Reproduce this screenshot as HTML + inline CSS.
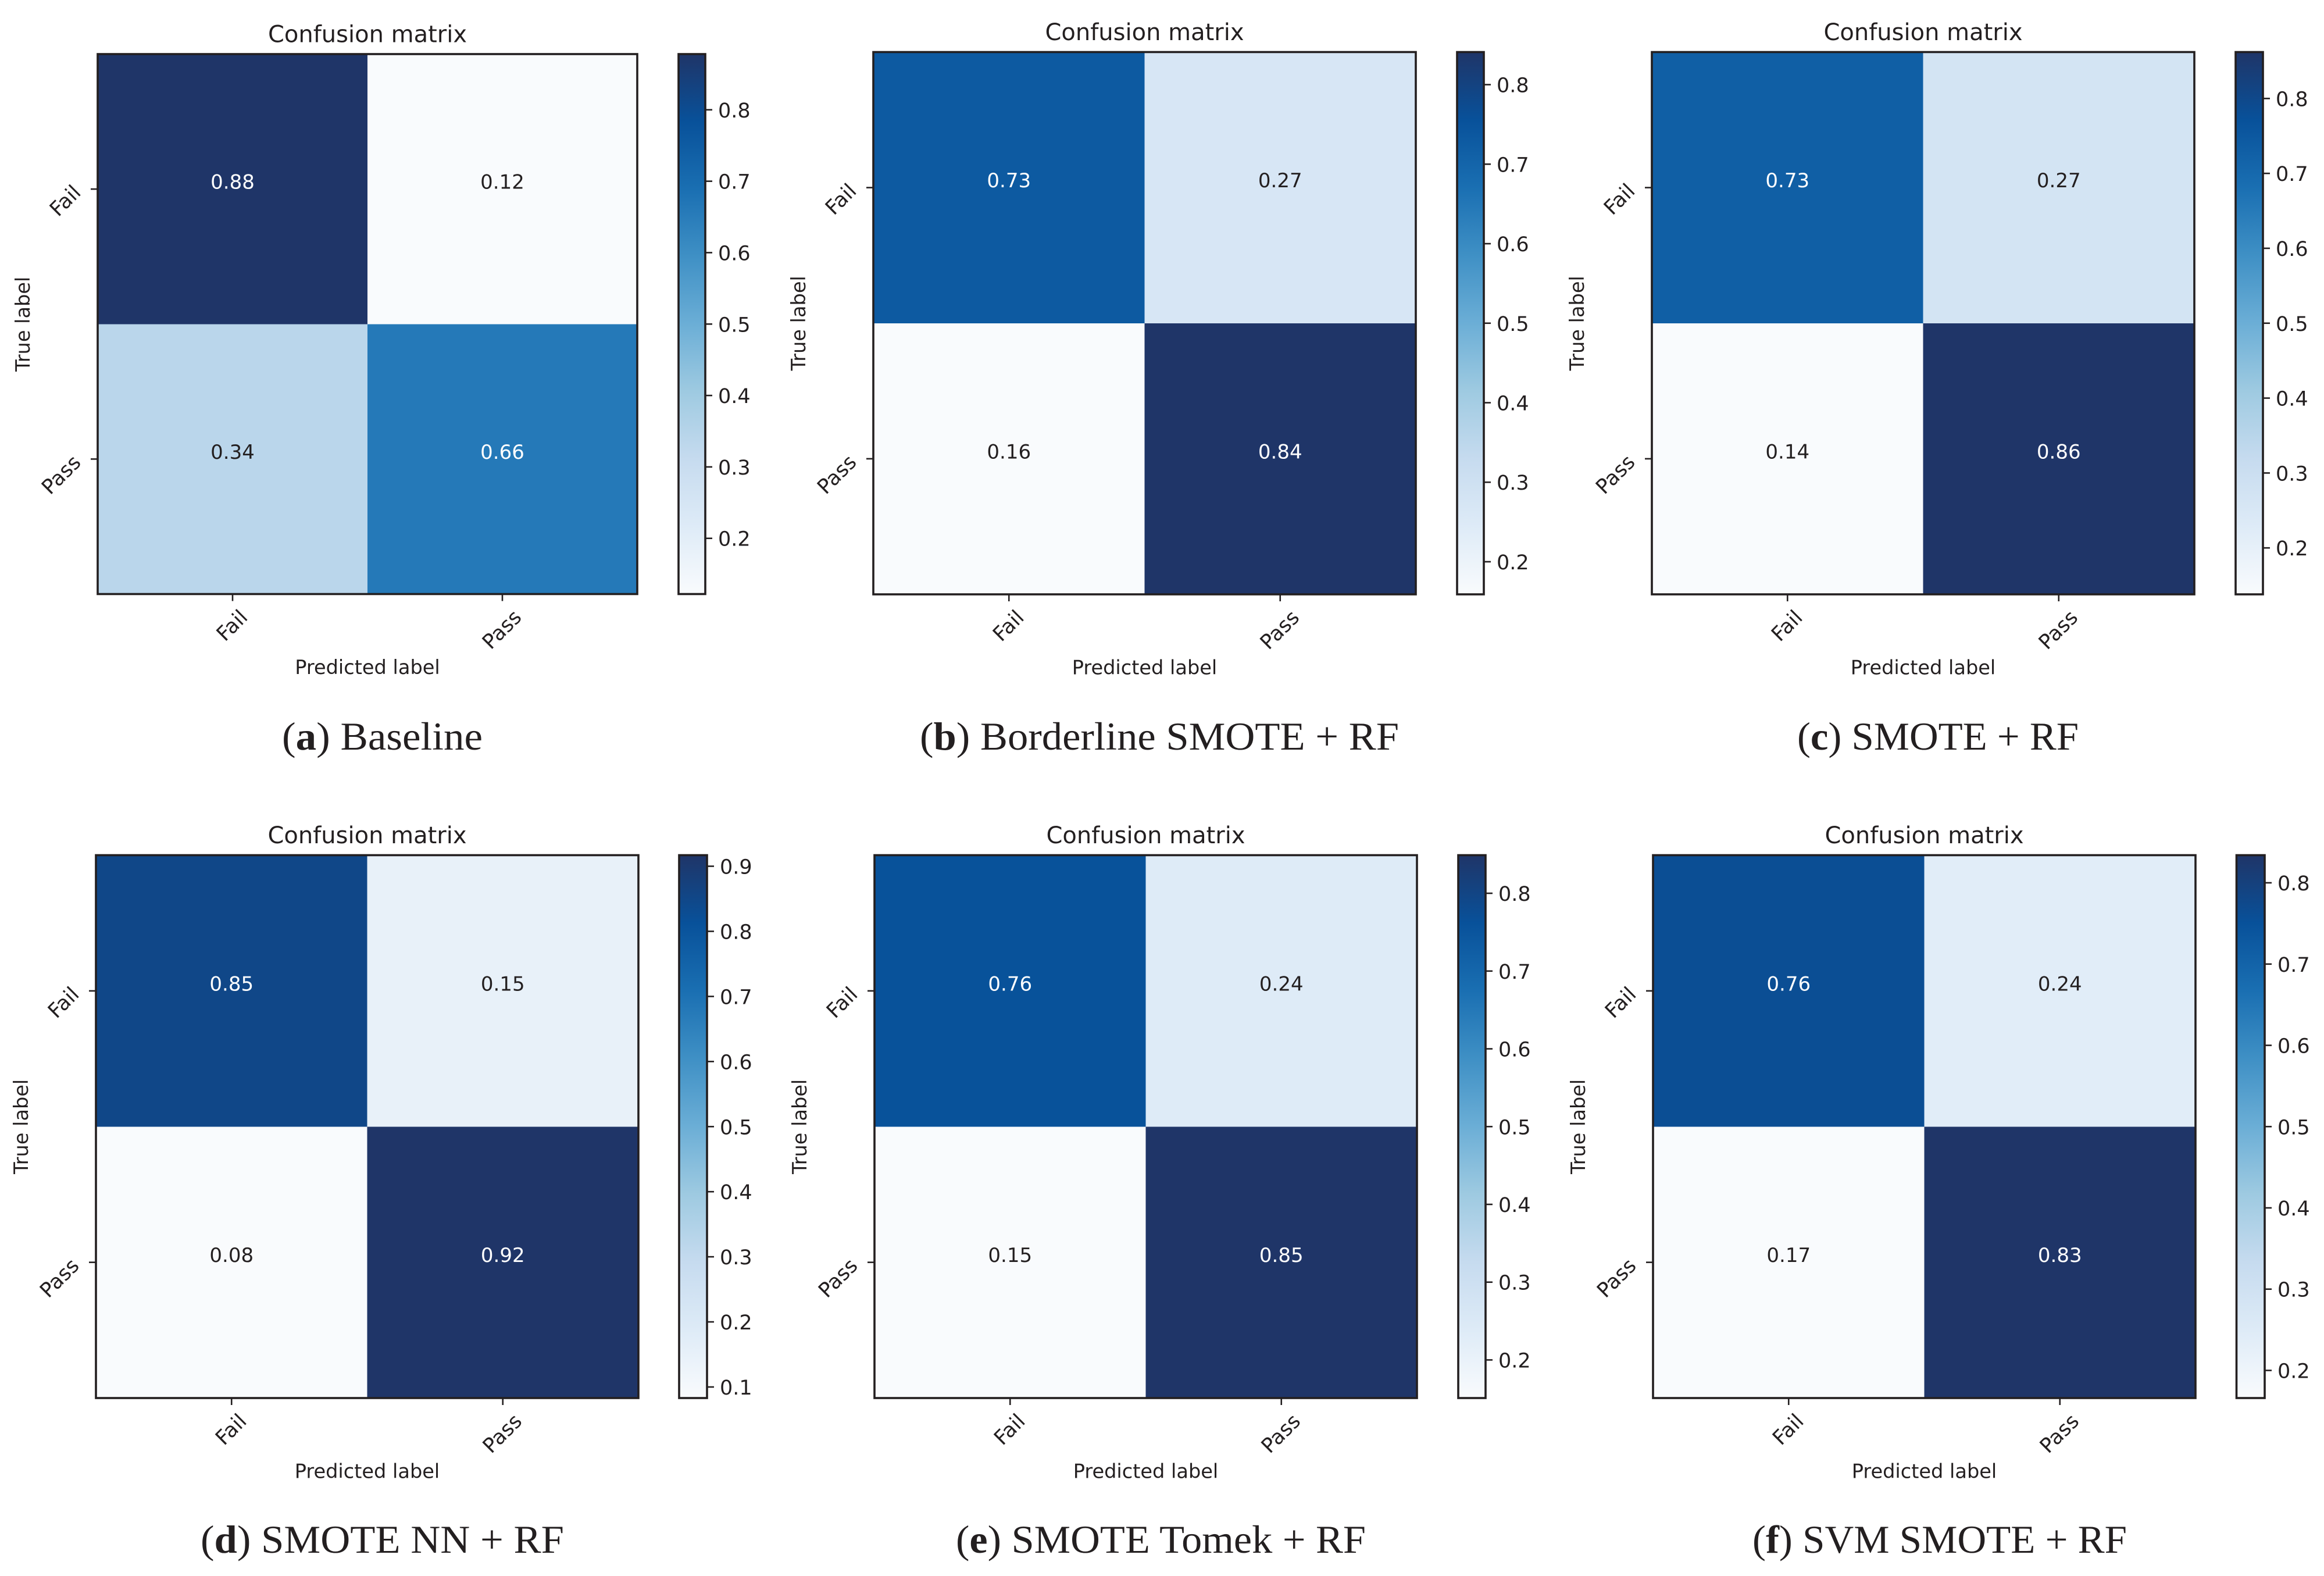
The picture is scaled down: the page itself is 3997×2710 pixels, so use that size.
<!DOCTYPE html>
<html lang="en">
<head>
<meta charset="utf-8">
<title>Confusion matrices</title>
<style>
  html, body { margin: 0; padding: 0; background: #ffffff; }
  svg { display: block; }
  text { font-family: "DejaVu Sans", "Liberation Sans", sans-serif; fill: #231f20; }
  .caption { font-family: "Liberation Serif", serif; }
</style>
</head>
<body>
<svg id="figure" xmlns="http://www.w3.org/2000/svg" width="3997" height="2710" viewBox="0 0 3997 2710">
  <rect x="0" y="0" width="3997" height="2710" fill="#ffffff"/>
  <defs>
    <linearGradient id="cmapGradient" x1="0" y1="1" x2="0" y2="0"></linearGradient>
  </defs>
</svg>
<script>
// ---- chart data ----
const classLabels = ['Fail', 'Pass'];
const chartTitle = 'Confusion matrix';
const xAxisTitle = 'Predicted label';
const yAxisTitle = 'True label';

const matrixBaseline = [[0.878, 0.122], [0.34, 0.66]];
const matrixBorderline = [[0.73, 0.27], [0.159, 0.841]];
const matrixSmote = [[0.73, 0.27], [0.138, 0.862]];
const matrixSmoteNN = [[0.85, 0.15], [0.083, 0.917]];
const matrixSmoteTomek = [[0.76, 0.24], [0.151, 0.849]];
const matrixSvmSmote = [[0.76, 0.24], [0.166, 0.834]];

const ticksBaseline = [0.2, 0.3, 0.4, 0.5, 0.6, 0.7, 0.8];
const ticksBorderline = [0.2, 0.3, 0.4, 0.5, 0.6, 0.7, 0.8];
const ticksSmote = [0.2, 0.3, 0.4, 0.5, 0.6, 0.7, 0.8];
const ticksSmoteNN = [0.1, 0.2, 0.3, 0.4, 0.5, 0.6, 0.7, 0.8, 0.9];
const ticksSmoteTomek = [0.2, 0.3, 0.4, 0.5, 0.6, 0.7, 0.8];
const ticksSvmSmote = [0.2, 0.3, 0.4, 0.5, 0.6, 0.7, 0.8];

const captionLetters = ['a', 'b', 'c', 'd', 'e', 'f'];
const captionNames = ['Baseline', 'Borderline SMOTE + RF', 'SMOTE + RF', 'SMOTE NN + RF', 'SMOTE Tomek + RF', 'SVM SMOTE + RF'];

const allMatrices = [matrixBaseline, matrixBorderline, matrixSmote, matrixSmoteNN, matrixSmoteTomek, matrixSvmSmote];
const allTicks = [ticksBaseline, ticksBorderline, ticksSmote, ticksSmoteNN, ticksSmoteTomek, ticksSvmSmote];

const colormapStops = ['#f9fbfd', '#deebf7', '#c6dbef', '#9ecae1', '#6baed6', '#3f90c5', '#1a6fb2', '#08519a', '#1f3568'];

// ---- layout (frames, not data) ----
const frames = [
  { l: 168, r: 1096, t: 93, b: 1021.5, cl: 1167, cr: 1213, capX: 485, capW: 345, capY: 1289 },
  { l: 1502, r: 2435, t: 89.5, b: 1022, cl: 2506, cr: 2552, capX: 1582, capW: 824, capY: 1289 },
  { l: 2841, r: 3774, t: 89.5, b: 1022, cl: 3845, cr: 3892, capX: 3091, capW: 484, capY: 1289 },
  { l: 165, r: 1098, t: 1470.5, b: 2404, cl: 1168, cr: 1216, capX: 345, capW: 625, capY: 2670 },
  { l: 1504, r: 2437, t: 1470.5, b: 2404, cl: 2508, cr: 2555, capX: 1644, capW: 705, capY: 2670 },
  { l: 2843, r: 3776, t: 1470.5, b: 2404, cl: 3846.5, cr: 3895, capX: 3014, capW: 644, capY: 2670 }
];

const INK = '#231f20';
const SVG_NS = 'http://www.w3.org/2000/svg';
const svg = document.getElementById('figure');

function make(tag, attrs, parent) {
  const el = document.createElementNS(SVG_NS, tag);
  for (const k in attrs) el.setAttribute(k, attrs[k]);
  parent.appendChild(el);
  return el;
}

function hexToRgb(h) {
  return [parseInt(h.slice(1, 3), 16), parseInt(h.slice(3, 5), 16), parseInt(h.slice(5, 7), 16)];
}

function colormap(t) {
  const c = Math.max(0, Math.min(1, t)) * (colormapStops.length - 1);
  const i = Math.min(Math.floor(c), colormapStops.length - 2);
  const f = c - i;
  const a = hexToRgb(colormapStops[i]);
  const b = hexToRgb(colormapStops[i + 1]);
  return 'rgb(' + a.map((v, k) => Math.round(v + (b[k] - v) * f)).join(',') + ')';
}

const gradient = document.getElementById('cmapGradient');
colormapStops.forEach((col, i) => {
  make('stop', { offset: i / (colormapStops.length - 1), 'stop-color': col }, gradient);
});

function drawPanel(index) {
  const matrix = allMatrices[index];
  const ticks = allTicks[index];
  const f = frames[index];
  const flat = matrix.flat();
  const vmin = Math.min.apply(null, flat);
  const vmax = Math.max.apply(null, flat);
  const n = classLabels.length;

  const xBand = (f.r - f.l) / n;
  const yBand = (f.b - f.t) / n;
  const xScale = (c) => f.l + c * xBand;
  const yScale = (r) => f.t + r * yBand;
  const norm = (v) => (v - vmin) / (vmax - vmin);
  const cbarY = (v) => f.b - norm(v) * (f.b - f.t);
  const cx = (f.l + f.r) / 2;
  const cy = (f.t + f.b) / 2;

  const g = make('g', {}, svg);
  
  

  // cells
  matrix.forEach((row, r) => {
    row.forEach((value, c) => {
      const cell = make('rect', {
        x: xScale(c), y: yScale(r), width: xBand, height: yBand,
        fill: colormap(norm(value)), 'shape-rendering': 'crispEdges'
      }, g);
      
      
    });
  });

  // cell values
  matrix.forEach((row, r) => {
    row.forEach((value, c) => {
      const label = make('text', {
        x: xScale(c) + xBand / 2, y: yScale(r) + yBand / 2 - 0.5,
        'text-anchor': 'middle', 'font-size': 34
      }, g);
      label.style.fill = norm(value) > 0.5 ? '#ffffff' : INK;
      label.textContent = value.toFixed(2);
      
      
    });
  });

  // axes frame
  const frame = make('rect', {
    x: f.l, y: f.t, width: f.r - f.l, height: f.b - f.t,
    fill: 'none', stroke: INK, 'stroke-width': 3.6
  }, g);
  
  

  // category ticks and labels
  classLabels.forEach((name, i) => {
    const tx = xScale(i) + xBand / 2;
    const xTick = make('line', { x1: tx, x2: tx, y1: f.b + 1, y2: f.b + 12, stroke: INK, 'stroke-width': 2.6 }, g);
    
    

    const xLabel = make('text', { 'text-anchor': 'middle', 'font-size': 35 }, g);
    xLabel.textContent = name;
    
    
    const len = xLabel.getComputedTextLength();
    const lx = tx + 7.5;
    const ly = f.b + 24 + len * 0.354 + 18;
    xLabel.setAttribute('x', lx);
    xLabel.setAttribute('y', ly);
    xLabel.setAttribute('transform', 'rotate(-45 ' + lx + ' ' + ly + ')');

    const ty = yScale(i) + yBand / 2;
    const yTick = make('line', { x1: f.l - 12, x2: f.l - 1, y1: ty, y2: ty, stroke: INK, 'stroke-width': 2.6 }, g);
    
    

    const ex = f.l - 27;
    const ey = ty + 8;
    const yLabel = make('text', {
      x: ex, y: ey, 'text-anchor': 'end', 'font-size': 35,
      transform: 'rotate(-45 ' + ex + ' ' + ey + ')'
    }, g);
    yLabel.textContent = name;
    
    
  });

  // titles
  const title = make('text', { x: cx, y: f.t - 20.5, 'text-anchor': 'middle', 'font-size': 40 }, g);
  title.textContent = chartTitle;
  
  

  const xTitle = make('text', { x: cx, y: f.b + 137.5, 'text-anchor': 'middle', 'font-size': 33.6 }, g);
  xTitle.textContent = xAxisTitle;
  
  

  const yx = f.l - 117;
  const yTitle = make('text', {
    x: yx, y: cy, 'text-anchor': 'middle', 'font-size': 33.6,
    transform: 'rotate(-90 ' + yx + ' ' + cy + ')'
  }, g);
  yTitle.textContent = yAxisTitle;
  
  

  // colorbar
  const bar = make('rect', {
    x: f.cl, y: f.t, width: f.cr - f.cl, height: f.b - f.t,
    fill: 'url(#cmapGradient)', stroke: INK, 'stroke-width': 3.6
  }, g);
  
  

  ticks.forEach((v) => {
    const y = cbarY(v);
    const tick = make('line', { x1: f.cr + 1, x2: f.cr + 12, y1: y, y2: y, stroke: INK, 'stroke-width': 2.6 }, g);
    
    

    const label = make('text', { x: f.cr + 22, y: y + 13, 'font-size': 35 }, g);
    label.textContent = v.toFixed(1);
    
    
  });

  // caption
  const caption = make('text', {
    class: 'caption', x: f.capX, y: f.capY, 'font-size': 68,
    textLength: f.capW, lengthAdjust: 'spacingAndGlyphs'
  }, g);
  
  
  caption.appendChild(document.createTextNode('('));
  const letter = make('tspan', { 'font-weight': 'bold' }, caption);
  letter.textContent = captionLetters[index];
  caption.appendChild(document.createTextNode(') ' + captionNames[index]));
}

allMatrices.forEach((m, i) => drawPanel(i));
</script>
</body>
</html>
